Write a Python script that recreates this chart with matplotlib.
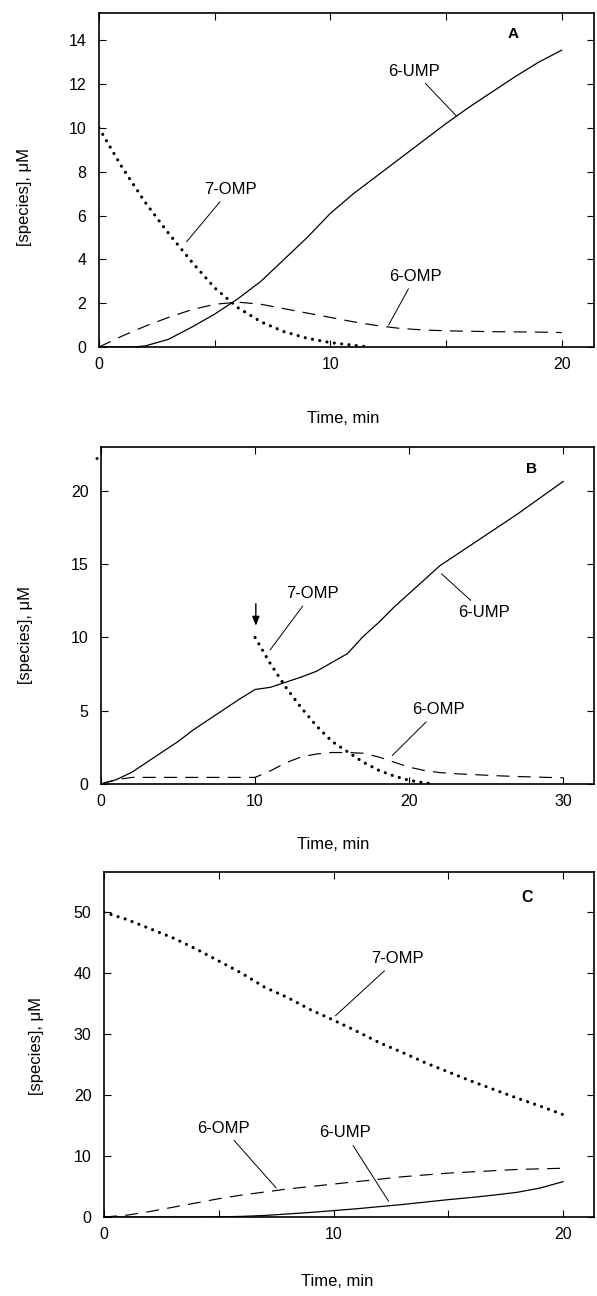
import matplotlib
matplotlib.use('Agg')
import matplotlib.pyplot as plt

plt.rcParams['font.family'] = ['Liberation Sans', 'DejaVu Sans']
plt.rcParams['font.size'] = 12

# ---- panel A ----
a_ump_t = [0, 1.5, 2, 3, 4, 5, 6, 7, 8, 9, 10, 11, 12, 13, 14, 15, 16, 17, 18, 19, 20]
a_ump_v = [0, 0, 0.05, 0.35, 0.9, 1.5, 2.2, 3.0, 4.0, 5.0, 6.1, 7.0, 7.8, 8.6, 9.4, 10.2,
           10.95, 11.65, 12.35, 13.0, 13.55]
a_omp7_t = [0, 1, 2, 3, 4, 5, 6, 7, 8, 9, 10, 11, 11.5]
a_omp7_v = [10.0, 8.2, 6.6, 5.2, 3.9, 2.7, 1.8, 1.15, 0.7, 0.4, 0.2, 0.08, 0.02]
a_omp6_t = [0, 1, 2, 3, 4, 5, 6, 7, 8, 9, 10, 11, 12, 13, 14, 15, 16, 17, 18, 19, 20]
a_omp6_v = [0, 0.5, 0.95, 1.35, 1.7, 1.95, 2.05, 1.95, 1.75, 1.55, 1.35, 1.15, 0.98, 0.85,
            0.78, 0.74, 0.72, 0.7, 0.69, 0.68, 0.66]

# ---- panel B ----
b_ump_t = list(range(0, 31))
b_ump_v = [0, 0.3, 0.8, 1.5, 2.2, 2.9, 3.7, 4.4, 5.1, 5.8, 6.45, 6.6, 6.95, 7.3, 7.7, 8.3,
           8.9, 10.05, 11.0, 12.05, 13.0, 13.95, 14.9, 15.6, 16.3, 17.0, 17.7, 18.4, 19.15,
           19.9, 20.65]
b_omp7_t = [10, 11, 12, 13, 14, 15, 16, 17, 18, 19, 20, 21, 21.5]
b_omp7_v = [10.0, 8.2, 6.6, 5.2, 3.95, 2.9, 2.2, 1.5, 0.95, 0.55, 0.25, 0.08, 0.02]
b_omp6_t = [0, 1, 2, 4, 6, 8, 10, 11, 12, 13, 14, 15, 16, 17, 18, 19, 20, 21, 22, 23, 24,
            26, 28, 30]
b_omp6_v = [0, 0.3, 0.45, 0.45, 0.45, 0.45, 0.45, 0.9, 1.45, 1.85, 2.05, 2.15, 2.15, 2.1,
            1.85, 1.5, 1.15, 0.92, 0.78, 0.7, 0.65, 0.55, 0.48, 0.42]

# ---- panel C ----
c_omp7_t = list(range(0, 21))
c_omp7_v = [50, 48.8, 47.3, 45.8, 44.0, 42.0, 40.0, 37.7, 36.0, 34.0, 32.3, 30.5, 28.6, 27.0,
            25.3, 23.8, 22.3, 20.9, 19.5, 18.2, 16.8]
c_omp6_t = list(range(0, 21))
c_omp6_v = [0, 0.3, 0.9, 1.6, 2.3, 3.0, 3.6, 4.1, 4.6, 5.0, 5.4, 5.8, 6.2, 6.6, 6.9, 7.2, 7.4,
            7.6, 7.8, 7.9, 8.0]
c_ump_t = [0, 2, 4, 5, 6, 7, 8, 9, 10, 11, 12, 13, 14, 15, 16, 17, 18, 19, 20]
c_ump_v = [0, 0, 0, 0.02, 0.1, 0.25, 0.5, 0.75, 1.05, 1.35, 1.7, 2.05, 2.45, 2.85, 3.2, 3.6,
           4.05, 4.75, 5.8]

W, H = 597, 1296
fig = plt.figure(figsize=(W / 100, H / 100), dpi=100)


def make_axes(left, right, top, bottom):
    return fig.add_axes([left / W, 1 - bottom / H, (right - left) / W, (bottom - top) / H])


dotted = dict(color='black', lw=2.3, linestyle=(0, (0.01, 2.3)), dash_capstyle='round')
dashed = dict(color='black', lw=0.85, linestyle=(0, (11, 7)))
solid = dict(color='black', lw=0.9)
leader = dict(arrowstyle='-', color='black', lw=0.7, shrinkA=2, shrinkB=0)


def style(ax, xlim, ylim, xticks, xlabels, yticks, xl_pos, yl_pos):
    ax.set_xlim(*xlim)
    ax.set_ylim(*ylim)
    ax.set_xticks(xticks)
    ax.set_xticklabels(xlabels)
    ax.set_yticks(yticks)
    ax.tick_params(direction='in', top=True, right=True, length=5, width=0.8,
                   labelsize=11.5)
    ax.tick_params(axis='x', pad=7.5)
    ax.tick_params(axis='y', pad=9)
    for s in ax.spines.values():
        s.set_linewidth(1.2)
    ax.set_xlabel('Time, min', fontsize=12)
    ax.xaxis.set_label_coords(*xl_pos)
    ax.xaxis.label.set_va('center')
    ax.set_ylabel('[species], μM', fontsize=12)
    ax.yaxis.set_label_coords(*yl_pos)
    ax.yaxis.label.set_va('center')


# panel A
ax = make_axes(99, 594, 13, 347)
ax.plot(a_ump_t, a_ump_v, **solid)
ax.plot(a_omp6_t, a_omp6_v, **dashed)
ax.plot(a_omp7_t, a_omp7_v, **dotted)
style(ax, (0, 21.4), (0, 15.25), [0, 5, 10, 15, 20], ['0', '', '10', '', '20'],
      range(0, 15, 2), (0.493, -0.213), (-0.15, 0.449))
ax.annotate('6-UMP', xy=(15.45, 10.55), xytext=(13.6, 12.6), ha='center', va='center',
            arrowprops=leader)
ax.annotate('7-OMP', xy=(3.79, 4.81), xytext=(5.68, 7.2), ha='center', va='center',
            arrowprops=leader)
ax.annotate('6-OMP', xy=(12.52, 1.0), xytext=(13.68, 3.24), ha='center', va='center',
            arrowprops=leader)
ax.text(17.9, 14.3, 'A', fontsize=11, fontweight='bold', ha='center', va='center')

# panel B
ax = make_axes(101, 594, 447, 784)
ax.plot(b_ump_t, b_ump_v, **solid)
ax.plot(b_omp6_t, b_omp6_v, **dashed)
ax.plot(b_omp7_t, b_omp7_v, **dotted)
style(ax, (0, 32.0), (0, 23.0), [0, 10, 20, 30], ['0', '10', '20', '30'],
      range(0, 21, 5), (0.47, -0.181), (-0.154, 0.442))
ax.annotate('7-OMP', xy=(10.97, 9.14), xytext=(13.7, 13.0), ha='center', va='center',
            arrowprops=leader)
ax.annotate('6-UMP', xy=(22.1, 14.35), xytext=(24.86, 11.7), ha='center', va='center',
            arrowprops=leader)
ax.annotate('6-OMP', xy=(18.9, 1.94), xytext=(21.9, 5.07), ha='center', va='center',
            arrowprops=leader)
ax.annotate('', xy=(10.05, 10.8), xytext=(10.05, 12.3),
            arrowprops=dict(arrowstyle='-|>,head_length=0.45,head_width=0.18',
                            color='black', lw=1.0, shrinkA=0, shrinkB=0))
ax.text(27.95, 21.5, 'B', fontsize=11, fontweight='bold', ha='center', va='center')
ax.text(-0.28, 22.2, '•', fontsize=8, ha='center', va='center', clip_on=False)

# panel C
ax = make_axes(104, 594, 872, 1217)
ax.plot(c_ump_t, c_ump_v, **solid)
ax.plot(c_omp6_t, c_omp6_v, **dashed)
ax.plot(c_omp7_t, c_omp7_v, **dotted)
style(ax, (0, 21.35), (0, 56.6), [0, 5, 10, 15, 20], ['0', '', '10', '', '20'],
      range(0, 51, 10), (0.476, -0.186), (-0.137, 0.496))
ax.annotate('7-OMP', xy=(10.08, 33.0), xytext=(12.8, 42.4), ha='center', va='center',
            arrowprops=leader)
ax.annotate('6-OMP', xy=(7.5, 4.77), xytext=(5.19, 14.6), ha='center', va='center',
            arrowprops=leader)
ax.annotate('6-UMP', xy=(12.4, 2.58), xytext=(10.5, 13.8), ha='center', va='center',
            arrowprops=leader)
ax.text(18.45, 52.4, 'C', fontsize=11.5, fontweight='bold', ha='center', va='center')

fig.savefig('out.png', dpi=100)
